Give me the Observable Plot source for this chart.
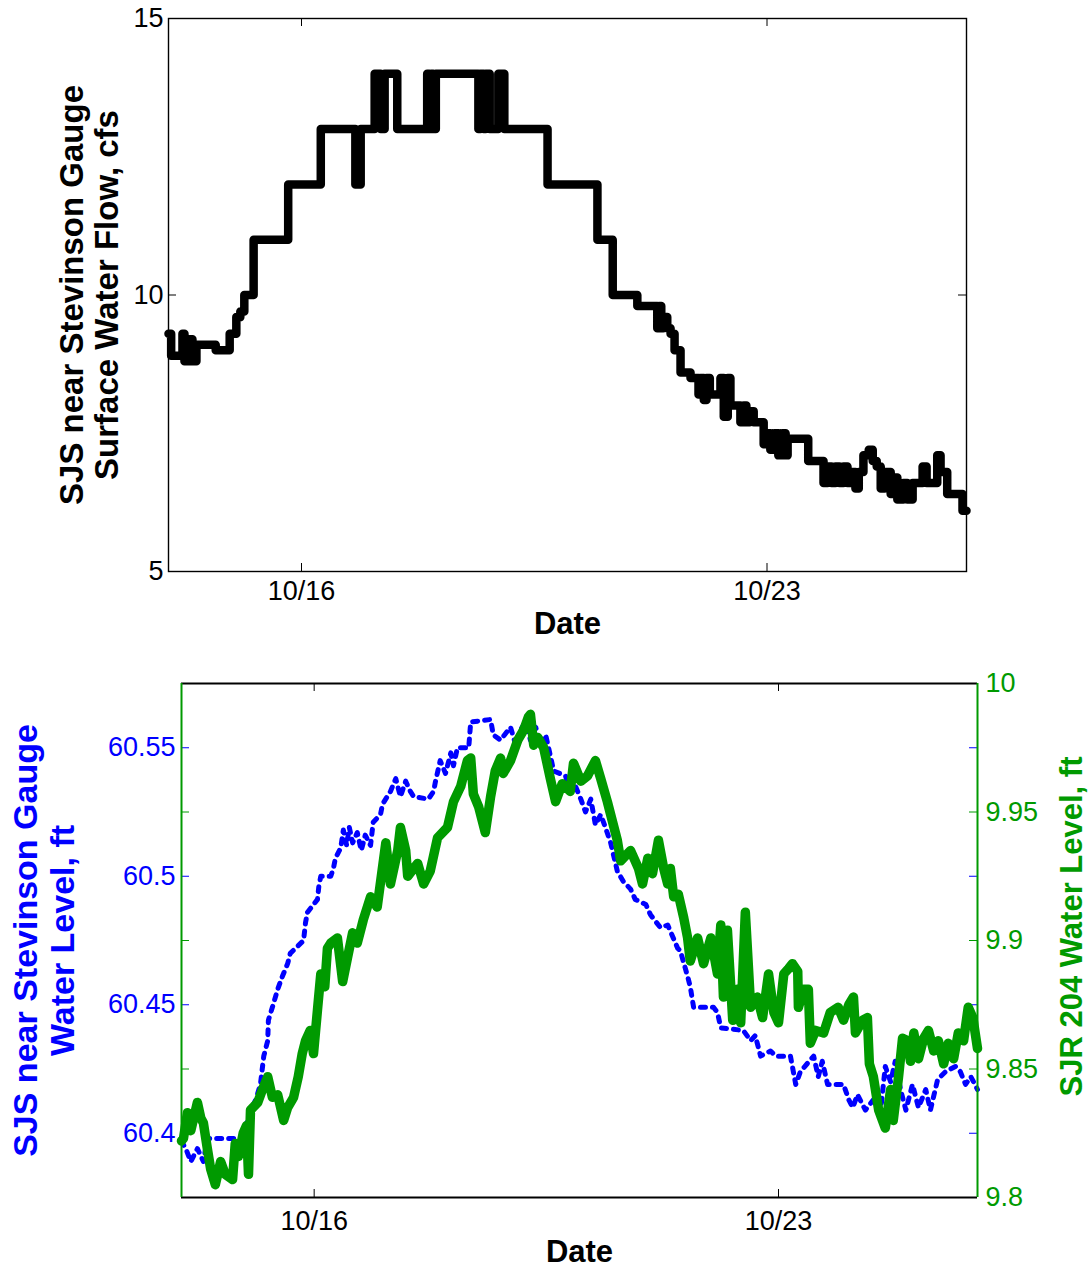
<!DOCTYPE html>
<html><head><meta charset="utf-8">
<script src="https://cdn.jsdelivr.net/npm/d3@7"></script>
<script src="https://cdn.jsdelivr.net/npm/@observablehq/plot@0.6"></script>
<style>
body{margin:0;background:#fff;}
#wrap{position:relative;width:1092px;height:1270px;background:#fff;}
#topChart,#bottomChart{position:absolute;left:0;}
#topChart{top:0}#bottomChart{top:650px}
</style></head><body>
<div id="wrap"><div id="topChart"></div><div id="bottomChart"></div></div>
<script>
// ---- data (days after 10/14 00:00) ----
const year = 2012;
const xStart = "10/14", xEnd = "10/26";
const xTickLabels = ["10/16", "10/23"];

const flowDays = [0.00,0.04,0.21,0.24,0.32,0.36,0.42,0.71,0.92,1.02,
1.08,1.14,1.28,1.80,2.29,2.81,2.89,3.10,3.19,3.25,
3.44,3.89,3.92,3.95,3.98,4.02,4.66,4.69,4.74,4.77,
4.83,4.96,5.05,5.70,6.45,6.68,7.05,7.35,7.38,7.41,
7.44,7.50,7.55,7.61,7.70,7.85,7.97,8.00,8.05,8.09,
8.14,8.30,8.35,8.41,8.45,8.60,8.65,8.69,8.74,8.80,
8.95,8.99,9.05,9.11,9.17,9.23,9.28,9.31,9.62,9.85,
9.91,9.97,10.03,10.09,10.15,10.21,10.26,10.33,10.38,10.45,
10.53,10.59,10.65,10.71,10.77,10.86,10.92,10.96,11.05,11.11,
11.19,11.34,11.40,11.56,11.61,11.71,11.94,12.00];
const flowCfs = [9.3,8.9,9.3,8.8,9.2,8.8,9.1,9.0,9.3,9.6,
9.7,10.0,11,12,13,12,13,14,13,14,
13,14,13,14,13,14,13,14,13,14,
13,14,13,12,11,10,9.8,9.4,9.8,9.4,
9.6,9.4,9.3,9.0,8.6,8.5,8.2,8.5,8.1,8.5,
8.2,8.5,7.8,8.5,8.0,7.7,8.0,7.7,7.9,7.7,
7.3,7.5,7.2,7.5,7.1,7.5,7.1,7.4,7.0,6.6,
6.9,6.6,6.9,6.6,6.9,6.6,6.8,6.5,6.8,7.1,
7.2,7.0,6.9,6.5,6.8,6.4,6.7,6.3,6.6,6.3,
6.6,6.9,6.6,7.1,6.8,6.4,6.1,6.1];

const blueDays = [0,0.08,0.14,0.24,0.33,0.39,0.89,0.96,1.04,1.12,
1.19,1.24,1.30,1.31,1.37,1.45,1.52,1.60,1.64,1.84,
1.87,1.90,2.05,2.07,2.10,2.25,2.29,2.32,2.40,2.44,
2.49,2.53,2.58,2.65,2.71,2.77,2.85,2.89,3.00,3.03,
3.15,3.23,3.30,3.38,3.45,3.50,3.72,3.80,3.83,3.90,
3.98,4.06,4.10,4.16,4.33,4.36,4.66,4.70,4.81,4.96,
5.04,5.11,5.19,5.26,5.34,5.41,5.49,5.56,5.61,5.79,
5.86,5.94,6.02,6.09,6.17,6.24,6.32,6.39,6.47,6.57,
6.66,6.77,6.84,7.00,7.07,7.22,7.33,7.48,7.52,7.63,
7.67,7.72,8.02,8.08,8.13,8.47,8.58,8.65,8.73,8.88,
8.96,9.18,9.26,9.33,9.53,9.60,9.66,9.74,9.98,10.06,
10.12,10.19,10.31,10.43,10.54,10.61,10.69,10.76,10.84,10.92,
11.02,11.11,11.22,11.29,11.40,11.52,11.67,11.74,11.82,11.90,
12.00];
const blueLevelFt = [60.397,60.393,60.389,60.394,60.389,60.398,60.398,60.402,60.409,60.413,
60.419,60.430,60.436,60.444,60.449,60.456,60.461,60.466,60.470,60.475,
60.482,60.486,60.491,60.496,60.500,60.500,60.503,60.507,60.511,60.518,
60.512,60.519,60.513,60.517,60.510,60.516,60.512,60.521,60.524,60.528,
60.533,60.538,60.531,60.537,60.533,60.531,60.530,60.533,60.537,60.545,
60.540,60.548,60.543,60.550,60.550,60.560,60.561,60.555,60.553,60.558,
60.551,60.557,60.560,60.553,60.558,60.551,60.555,60.547,60.541,60.539,
60.533,60.535,60.530,60.525,60.530,60.520,60.524,60.519,60.513,60.502,
60.498,60.495,60.491,60.489,60.485,60.480,60.481,60.472,60.471,60.461,
60.457,60.449,60.449,60.447,60.441,60.440,60.436,60.438,60.430,60.432,
60.430,60.430,60.419,60.424,60.430,60.422,60.428,60.419,60.419,60.413,
60.410,60.415,60.409,60.413,60.409,60.426,60.420,60.428,60.417,60.409,
60.419,60.410,60.417,60.409,60.421,60.424,60.426,60.424,60.419,60.422,
60.417];

const greenDays = [0.00,0.03,0.09,0.14,0.24,0.29,0.33,0.39,0.44,0.51,
0.59,0.66,0.77,0.81,0.86,0.93,0.98,1.01,1.04,1.15,
1.22,1.30,1.37,1.45,1.54,1.60,1.69,1.76,1.82,1.87,
1.94,1.99,2.05,2.10,2.16,2.20,2.25,2.35,2.43,2.50,
2.58,2.65,2.74,2.85,2.95,3.08,3.15,3.26,3.30,3.38,
3.41,3.56,3.65,3.75,3.86,4.01,4.10,4.21,4.31,4.36,
4.40,4.48,4.58,4.66,4.73,4.81,4.85,4.96,5.07,5.16,
5.23,5.26,5.31,5.37,5.46,5.56,5.64,5.74,5.86,5.91,
6.02,6.12,6.24,6.32,6.42,6.49,6.57,6.62,6.77,6.89,
6.95,7.03,7.10,7.19,7.27,7.33,7.37,7.42,7.49,7.57,
7.63,7.67,7.78,7.87,7.98,8.08,8.13,8.17,8.23,8.31,
8.38,8.43,8.50,8.55,8.58,8.68,8.76,8.85,8.93,9.00,
9.08,9.15,9.21,9.29,9.30,9.38,9.45,9.48,9.56,9.68,
9.78,9.90,9.98,10.06,10.13,10.16,10.27,10.34,10.37,10.43,
10.51,10.61,10.69,10.73,10.81,10.87,10.95,10.99,11.04,11.11,
11.19,11.26,11.34,11.41,11.49,11.56,11.64,11.71,11.79,11.86,
11.93,12.00];
const greenLevelFt = [9.822,9.823,9.833,9.826,9.837,9.831,9.829,9.819,9.811,9.805,
9.814,9.809,9.807,9.821,9.816,9.825,9.828,9.809,9.834,9.837,
9.842,9.847,9.839,9.840,9.830,9.835,9.839,9.847,9.856,9.861,
9.865,9.856,9.873,9.887,9.882,9.897,9.899,9.901,9.884,9.893,
9.903,9.899,9.908,9.917,9.913,9.938,9.922,9.935,9.944,9.935,
9.925,9.930,9.922,9.927,9.940,9.944,9.954,9.960,9.970,9.971,
9.957,9.952,9.942,9.956,9.966,9.971,9.965,9.970,9.978,9.982,
9.987,9.988,9.976,9.979,9.975,9.963,9.954,9.961,9.958,9.969,
9.962,9.964,9.970,9.963,9.954,9.947,9.939,9.931,9.935,9.928,
9.922,9.932,9.926,9.939,9.928,9.922,9.928,9.917,9.918,9.909,
9.901,9.892,9.901,9.891,9.901,9.887,9.906,9.878,9.904,9.869,
9.881,9.868,9.911,9.888,9.874,9.878,9.870,9.887,9.872,9.868,
9.887,9.889,9.891,9.888,9.874,9.881,9.881,9.860,9.865,9.864,
9.872,9.874,9.869,9.875,9.878,9.864,9.869,9.870,9.852,9.847,
9.834,9.827,9.842,9.830,9.847,9.862,9.861,9.853,9.864,9.854,
9.862,9.865,9.857,9.861,9.852,9.860,9.854,9.864,9.861,9.874,
9.870,9.858];

const flowDomain = [5, 15];
const flowTicks = [5, 10, 15];
const blueDomain = [60.375, 60.575];
const blueTicks = [60.4, 60.45, 60.5, 60.55];
const greenDomain = [9.8, 10];
const greenTicks = [9.8, 9.85, 9.9, 9.95, 10];

// ---- helpers ----
const parseMD = s => d3.utcParse("%Y/%m/%d")(`${year}/${s}`);
const t0 = parseMD(xStart), t1 = parseMD(xEnd);
const toDate = d => new Date(+t0 + d * 864e5);
const xTicks = xTickLabels.map(parseMD);
const flowData = flowDays.map((d, i) => ({date: toDate(d), v: flowCfs[i]}));
const blueData = blueDays.map((d, i) => ({date: toDate(d), v: blueLevelFt[i]}));
const greenData = greenDays.map((d, i) => ({date: toDate(d), v: greenLevelFt[i]}));
const g2b = g => blueDomain[0] + (g - greenDomain[0]) * (blueDomain[1] - blueDomain[0]) / (greenDomain[1] - greenDomain[0]);
const b2g = b => greenDomain[0] + (b - blueDomain[0]) * (greenDomain[1] - greenDomain[0]) / (blueDomain[1] - blueDomain[0]);

const FONT = "'Liberation Sans', Arial, Helvetica, sans-serif";
const BLUE = "#0000ff", GREEN = "#009a00";
const TL = 8;
const FS = 27;

// ---- top chart ----
const W = 1092;
const m1 = {t: 18, b: 79, l: 168, r: 126}, H1 = 650;
const iw1 = W - m1.l - m1.r, ih1 = H1 - m1.t - m1.b;
const topPlot = Plot.plot({
  width: W, height: H1,
  marginTop: m1.t, marginBottom: m1.b, marginLeft: m1.l, marginRight: m1.r,
  style: {fontFamily: FONT, fontSize: FS + "px", color: "black", background: "white", overflow: "visible"},
  x: {type: "utc", domain: [t0, t1]},
  y: {domain: flowDomain},
  marks: [
    Plot.frame({stroke: "black", strokeWidth: 1.4}),
    Plot.tickY(flowTicks, {y: d => d, insetRight: iw1 - TL, stroke: "black"}),
    Plot.tickY(flowTicks, {y: d => d, insetLeft: iw1 - TL, stroke: "black"}),
    Plot.tickX(xTicks, {x: d => d, insetTop: ih1 - TL, stroke: "black"}),
    Plot.tickX(xTicks, {x: d => d, insetBottom: ih1 - TL, stroke: "black"}),
    Plot.line(flowData, {x: "date", y: "v", curve: "step-after", stroke: "black", strokeWidth: 8.5, strokeLinejoin: "round", strokeLinecap: "round"}),
    Plot.axisY(flowTicks, {tickSize: 0, tickPadding: 5, fontSize: FS, label: null, tickFormat: d => String(d)}),
    Plot.axisX(xTicks, {tickSize: 0, tickPadding: 9, fontSize: FS, label: null, tickFormat: d3.utcFormat("%m/%d")}),
    Plot.text(["SJS near Stevinson Gauge\nSurface Water Flow, cfs"], {frameAnchor: "left", rotate: -90, dx: -79, fontWeight: "bold", fontSize: 33, lineHeight: 1.06, textAnchor: "middle", lineAnchor: "middle"}),
    Plot.text(["Date"], {frameAnchor: "bottom", dy: 53, fontWeight: "bold", fontSize: 31, lineAnchor: "middle"})
  ]
});
document.getElementById("topChart").append(topPlot);

// ---- bottom chart ----
const m2 = {t: 33, b: 73, l: 181, r: 115}, H2 = 620;
const iw2 = W - m2.l - m2.r, ih2 = H2 - m2.t - m2.b;
const innerGreen = greenTicks.slice(1, -1).map(g2b);
const bottomPlot = Plot.plot({
  width: W, height: H2,
  marginTop: m2.t, marginBottom: m2.b, marginLeft: m2.l, marginRight: m2.r,
  style: {fontFamily: FONT, fontSize: FS + "px", color: "black", background: "white", overflow: "visible"},
  x: {type: "utc", domain: [t0, t1]},
  y: {domain: blueDomain},
  marks: [
    Plot.tickY(blueTicks, {y: d => d, insetRight: iw2 - TL, stroke: BLUE}),
    Plot.tickY(blueTicks, {y: d => d, insetLeft: iw2 - TL, stroke: BLUE}),
    Plot.tickY(innerGreen, {y: d => d, insetRight: iw2 - TL, stroke: GREEN}),
    Plot.tickY(innerGreen, {y: d => d, insetLeft: iw2 - TL, stroke: GREEN}),
    Plot.tickX(xTicks, {x: d => d, insetTop: ih2 - TL, stroke: "black"}),
    Plot.tickX(xTicks, {x: d => d, insetBottom: ih2 - TL, stroke: "black"}),
    Plot.line(blueData, {x: "date", y: "v", stroke: BLUE, strokeWidth: 5, strokeDasharray: "5,7"}),
    Plot.line(greenData, {x: "date", y: d => g2b(d.v), stroke: GREEN, strokeWidth: 9.5, strokeLinejoin: "round", strokeLinecap: "round"}),
    Plot.ruleY([blueDomain[1]], {stroke: "black", strokeWidth: 2}),
    Plot.ruleY([blueDomain[0]], {stroke: "black", strokeWidth: 2}),
    Plot.ruleX([t0], {stroke: GREEN, strokeWidth: 2}),
    Plot.ruleX([t1], {stroke: GREEN, strokeWidth: 2}),
    Plot.axisY(blueTicks, {anchor: "left", tickSize: 0, tickPadding: 6, fontSize: FS, label: null, color: BLUE, tickFormat: d3.format("~g")}),
    Plot.axisY(greenTicks.map(g2b), {anchor: "right", tickSize: 0, tickPadding: 8, fontSize: FS, label: null, color: GREEN, tickFormat: d => d3.format(".3~f")(b2g(d))}),
    Plot.axisX(xTicks, {tickSize: 0, tickPadding: 13, fontSize: FS, label: null, tickFormat: d3.utcFormat("%m/%d")}),
    Plot.text(["SJS near Stevinson Gauge\nWater Level, ft"], {frameAnchor: "left", rotate: -90, dx: -138, fill: BLUE, fontWeight: "bold", fontSize: 34, lineHeight: 1.1, textAnchor: "middle", lineAnchor: "middle"}),
    Plot.text(["SJR 204 Water Level, ft"], {frameAnchor: "right", rotate: -90, dx: 95, dy: -14, fill: GREEN, fontWeight: "bold", fontSize: 31, textAnchor: "middle", lineAnchor: "middle"}),
    Plot.text(["Date"], {frameAnchor: "bottom", dy: 55, fontWeight: "bold", fontSize: 31, lineAnchor: "middle"})
  ]
});
document.getElementById("bottomChart").append(bottomPlot);
</script>
</body></html>
